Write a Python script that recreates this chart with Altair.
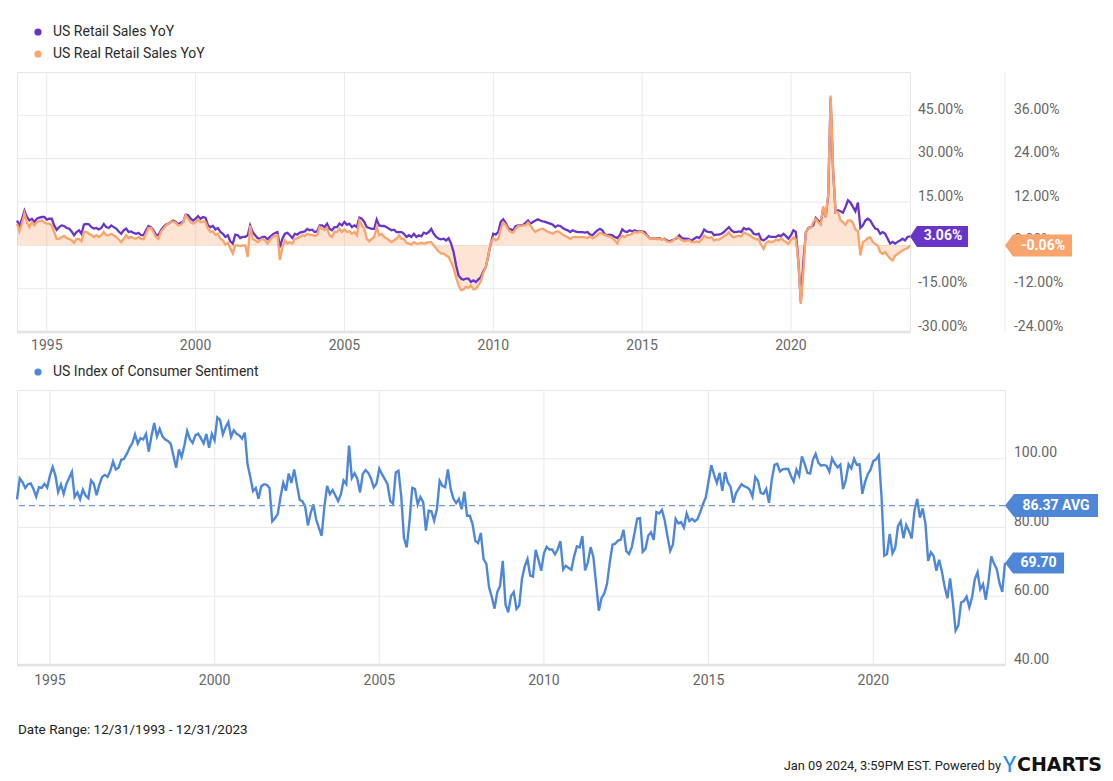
import altair as alt
import pandas as pd

# ---------------- data ----------------
N_MONTHS = 361  # Dec 1993 .. Dec 2023, month-end
MONTH_ENDS = pd.date_range("1993-12-01", periods=N_MONTHS, freq="MS") + pd.offsets.MonthEnd(0)
DATES = MONTH_ENDS.strftime("%Y-%m-%d").tolist()
# position of each month-end on a decimal-year time axis (Dec 31 1993 -> 1994.0)
T = [d.year + d.month / 12 for d in MONTH_ENDS]

RETAIL_YOY = [
    8.6,
    6.7, 9.2, 12.0, 9.8, 8.6, 9.2, 8.1, 9.2, 9.6, 9.8, 9.8, 8.9,          # 1994
    9.2, 9.2, 6.9, 5.4, 6.3, 6.9, 6.7, 6.0, 5.8, 4.8, 3.5, 4.6,           # 1995
    5.2, 4.0, 7.2, 7.4, 7.3, 6.3, 5.8, 6.0, 5.5, 6.0, 7.4, 6.3,           # 1996
    6.0, 6.9, 6.3, 5.8, 4.8, 4.0, 5.2, 5.8, 4.6, 4.8, 4.3, 4.0,           # 1997
    4.3, 3.5, 3.5, 5.2, 6.7, 6.3, 5.2, 3.7, 3.5, 5.2, 6.3, 7.1,           # 1998
    7.5, 8.1, 8.6, 8.1, 7.3, 7.8, 8.1, 10.6, 10.4, 9.2, 8.6, 9.2,         # 1999
    10.1, 9.2, 9.8, 9.5, 6.9, 6.3, 6.7, 5.5, 6.0, 4.6, 4.0, 2.9,          # 2000
    3.5, 1.4, 0.6, 3.7, 3.5, 2.5, 2.9, 2.9, 3.5, 6.9, 4.6, 3.5,           # 2001
    2.5, 2.3, 2.9, 2.9, 2.1, 2.9, 3.7, 4.3, 4.6, -0.6, 2.3, 4.0,          # 2002
    4.3, 3.5, 2.5, 4.0, 3.7, 4.4, 4.6, 4.8, 5.7, 5.2, 5.4, 4.6,           # 2003
    4.8, 6.9, 6.9, 6.3, 7.5, 5.7, 5.2, 6.3, 6.3, 7.5, 6.9, 8.1,           # 2004
    7.1, 7.5, 6.3, 6.9, 6.3, 9.6, 9.2, 8.1, 6.3, 6.0, 5.7, 5.7,           # 2005
    8.9, 6.9, 6.7, 6.7, 6.3, 5.7, 5.2, 5.4, 4.6, 4.6, 4.6, 4.0,           # 2006
    2.9, 3.5, 2.9, 4.0, 2.9, 3.5, 3.1, 4.4, 4.0, 4.6, 5.7, 4.0,           # 2007
    2.9, 2.3, 2.1, 2.3, 1.7, 2.5, 0.6, -2.3, -6.9, -10.4, -11.5, -11.9,   # 2008
    -11.5, -11.5, -12.7, -12.1, -12.7, -11.8, -11.0, -9.0, -7.5, -3.5, 0.6, 4.0,  # 2009
    3.7, 4.6, 8.1, 9.0, 7.8, 6.0, 5.5, 5.2, 6.6, 6.9, 6.9, 7.1,           # 2010
    7.8, 8.6, 7.5, 8.1, 8.6, 9.0, 8.6, 8.3, 8.1, 7.8, 7.5, 7.1,           # 2011
    6.3, 6.9, 6.7, 6.0, 5.5, 5.2, 4.6, 5.2, 4.8, 4.6, 4.6, 4.6,           # 2012
    4.4, 4.6, 3.7, 3.5, 4.4, 5.2, 5.7, 5.2, 3.7, 3.5, 3.7, 3.5,           # 2013
    2.9, 2.5, 3.5, 5.5, 4.8, 4.6, 5.2, 4.8, 5.2, 4.8, 4.8, 4.8,           # 2014
    4.6, 3.5, 2.5, 2.3, 2.5, 2.3, 2.5, 2.1, 2.3, 1.7, 1.4, 1.7,           # 2015
    2.1, 2.5, 3.5, 2.5, 2.3, 2.3, 2.1, 1.7, 2.3, 2.9, 2.5, 3.7,           # 2016
    5.5, 4.8, 4.6, 4.6, 3.5, 3.7, 3.7, 4.0, 4.6, 5.5, 6.3, 5.2,           # 2017
    4.6, 4.6, 4.8, 4.6, 6.0, 5.5, 5.8, 5.2, 4.0, 3.7, 4.0, 2.1,           # 2018
    1.7, 2.3, 3.2, 2.9, 2.9, 2.9, 3.5, 3.2, 4.0, 3.2, 2.3, 3.5,           # 2019
    5.2, 4.6, -5.8, -19.6, -6.0, 4.5, 6.0, 6.3, 6.9, 9.5, 8.6, 7.8,       # 2020
    12.7, 9.8, 17.0, 51.0, 26.0, 11.5, 12.1, 11.8, 11.3, 13.3, 15.6, 14.8,  # 2021
    13.3, 11.8, 14.8, 6.0, 6.9, 8.6, 9.2, 8.6, 7.1, 5.8, 5.5, 4.0,        # 2022
    4.6, 4.0, 2.3, 0.6, 1.2, 0.6, 1.2, 1.7, 2.3, 1.7, 2.9, 3.06,          # 2023
]

REAL_RETAIL_YOY = [
    6.0,
    3.9, 6.0, 8.8, 6.4, 5.1, 6.4, 5.5, 6.4, 6.7, 6.9, 6.4, 6.0,           # 1994
    6.0, 5.5, 3.7, 1.8, 1.8, 2.3, 2.6, 2.0, 1.8, 1.4, 0.7, 1.8,           # 1995
    1.8, 1.1, 3.7, 3.7, 3.2, 2.9, 2.3, 2.8, 2.3, 2.8, 3.7, 2.8,           # 1996
    2.8, 3.2, 2.8, 2.3, 1.7, 0.9, 1.8, 2.8, 2.0, 2.3, 2.0, 1.8,           # 1997
    2.3, 1.8, 1.7, 3.2, 4.8, 4.8, 3.7, 2.3, 1.8, 3.7, 4.6, 5.5,           # 1998
    6.0, 6.4, 6.6, 6.3, 5.5, 5.7, 6.4, 8.3, 7.4, 6.4, 6.0, 6.4,           # 1999
    7.2, 6.4, 6.6, 6.4, 4.6, 3.7, 3.9, 2.9, 3.2, 1.8, 1.4, 0.2,           # 2000
    0.7, -0.9, -2.3, 0.0, 0.0, -0.2, 0.0, 0.0, -3.2, 5.5, 1.8, 1.4,       # 2001
    0.9, 1.4, 1.8, 1.4, 0.5, 1.4, 2.3, 2.6, 2.8, -4.1, -0.5, 1.4,         # 2002
    0.5, 0.9, 0.5, 1.8, 2.0, 2.3, 2.8, 2.6, 3.2, 2.9, 2.9, 2.6,           # 2003
    2.8, 5.1, 4.6, 4.2, 4.8, 2.8, 2.3, 3.7, 3.7, 4.6, 3.7, 4.4,           # 2004
    3.7, 3.9, 3.2, 3.7, 2.8, 6.9, 5.5, 4.6, 1.8, 1.1, 1.8, 2.3,           # 2005
    5.1, 2.8, 3.2, 2.3, 2.0, 1.4, 0.9, 1.4, 1.8, 2.8, 1.8, 1.8,           # 2006
    0.7, 0.5, 0.2, 0.9, 0.5, 0.5, 0.7, 0.5, 0.7, 0.9, 0.9, 0.0,           # 2007
    -0.9, -1.7, -2.3, -2.3, -2.8, -3.2, -4.6, -6.4, -8.8, -11.1, -12.4, -12.2,  # 2008
    -11.5, -11.8, -11.1, -12.2, -12.0, -11.1, -9.9, -7.6, -6.0, -2.8, 0.7, 2.0,  # 2009
    1.4, 1.8, 4.4, 6.3, 5.7, 4.4, 3.7, 3.5, 4.6, 5.3, 5.4, 5.5,           # 2010
    5.5, 6.3, 5.5, 4.4, 3.7, 4.2, 4.4, 4.6, 4.2, 3.7, 3.5, 3.2,           # 2011
    3.7, 3.9, 3.5, 2.9, 2.6, 2.3, 1.8, 2.3, 2.3, 2.3, 2.3, 2.3,           # 2012
    2.2, 2.0, 2.5, 2.0, 2.3, 2.9, 3.5, 3.2, 2.8, 2.6, 2.4, 2.0,           # 2013
    1.4, 0.5, 2.0, 2.6, 2.3, 2.8, 2.9, 3.2, 3.7, 3.5, 3.7, 3.7,           # 2014
    3.2, 2.6, 2.0, 1.8, 2.0, 1.7, 1.8, 1.7, 1.7, 1.1, 0.9, 1.1,           # 2015
    1.7, 2.3, 2.0, 1.4, 1.1, 1.3, 1.4, 0.9, 0.9, 1.1, 0.9, 1.6,           # 2016
    2.7, 2.2, 2.0, 2.2, 1.3, 1.6, 1.6, 2.0, 2.5, 2.9, 3.6, 2.7,           # 2017
    2.2, 2.5, 2.7, 2.5, 3.6, 3.2, 2.9, 2.5, 2.0, 1.6, 1.8, 0.1,           # 2018
    -1.0, 0.7, 1.1, 0.9, 1.1, 1.6, 1.3, 2.0, 1.3, 0.9, 0.4, 1.5,          # 2019
    2.2, 1.6, -4.7, -16.2, -7.4, 3.6, 4.7, 4.8, 6.4, 7.3, 6.4, 5.7,       # 2020
    10.8, 7.8, 14.0, 41.5, 21.0, 9.2, 9.2, 6.9, 6.4, 5.7, 6.9, 6.9,       # 2021
    6.2, 4.4, 3.9, -2.8, 0.9, 1.3, 2.0, 2.2, 0.9, 0.4, -0.1, -1.9,        # 2022
    -2.4, -1.9, -2.8, -3.7, -4.2, -2.8, -2.4, -1.9, -1.4, -1.0, -0.8, -0.06,  # 2023
]

SENTIMENT = [
    88.2,
    94.3, 93.2, 91.5, 92.6, 92.8, 91.2, 89.0, 91.7, 91.5, 92.7, 91.6, 95.1,
    97.6, 95.1, 90.3, 92.5, 89.8, 92.7, 94.4, 96.2, 88.9, 90.2, 88.2, 91.0,
    89.3, 88.5, 93.7, 92.7, 89.4, 92.4, 94.7, 95.3, 94.7, 96.5, 99.2, 96.9,
    97.4, 99.7, 100.0, 101.4, 103.2, 104.5, 107.1, 104.4, 106.0, 105.6, 107.2, 102.1,
    106.6, 110.4, 106.5, 108.7, 106.5, 105.6, 105.2, 104.4, 100.9, 97.4, 102.7, 100.5,
    103.9, 108.1, 105.7, 104.6, 106.8, 107.3, 106.0, 104.5, 107.2, 103.2, 107.2, 105.4,
    112.0, 111.3, 107.1, 109.2, 110.7, 106.4, 108.3, 107.3, 106.8, 105.8, 107.6, 98.4,
    94.7, 90.6, 91.5, 88.4, 92.0, 92.6, 92.4, 91.5, 81.8, 82.7, 83.9, 88.8,
    93.0, 90.7, 95.7, 93.0, 96.9, 92.4, 88.1, 87.6, 86.1, 80.6, 84.2, 86.7,
    82.4, 79.9, 77.6, 86.0, 92.1, 89.7, 90.9, 89.3, 87.7, 89.6, 93.7, 92.6,
    103.8, 94.4, 95.8, 94.2, 90.2, 95.6, 96.7, 95.9, 94.2, 91.7, 92.8, 97.1,
    95.5, 94.1, 92.6, 87.7, 86.9, 96.0, 96.5, 89.1, 76.9, 74.2, 81.6, 91.5,
    91.2, 86.7, 88.9, 87.4, 79.1, 84.9, 84.7, 82.0, 85.4, 93.6, 92.1, 91.7,
    96.9, 91.3, 88.4, 87.1, 88.3, 85.3, 90.4, 83.4, 83.4, 80.9, 76.1, 75.5,
    78.4, 70.8, 69.5, 62.6, 59.8, 56.4, 61.2, 63.0, 70.3, 57.6, 55.3, 60.1,
    61.2, 56.3, 57.3, 65.1, 68.7, 70.8, 66.0, 65.7, 73.5, 70.6, 67.4, 72.5,
    74.4, 73.6, 73.6, 72.2, 73.6, 76.0, 67.8, 68.9, 68.2, 67.7, 71.6, 74.5,
    74.2, 77.5, 67.5, 69.8, 74.3, 71.5, 63.7, 55.8, 59.5, 60.8, 63.7, 69.9,
    75.0, 75.3, 76.2, 76.4, 79.3, 73.2, 72.3, 74.3, 78.3, 82.6, 82.7, 72.9,
    73.8, 77.6, 78.6, 76.4, 84.5, 84.1, 85.1, 82.1, 77.5, 73.2, 75.1, 82.5,
    81.2, 81.6, 80.0, 84.1, 81.9, 82.5, 81.8, 82.5, 84.6, 86.9, 88.8, 93.6,
    98.1, 95.4, 93.0, 95.9, 90.7, 96.1, 93.1, 91.9, 87.2, 90.0, 91.3, 92.6,
    92.0, 91.7, 91.0, 89.0, 94.7, 93.5, 90.0, 89.8, 91.2, 87.2, 93.8, 98.2,
    98.5, 96.3, 96.9, 97.0, 97.1, 95.0, 93.4, 96.8, 95.1, 100.7, 98.5, 95.9,
    95.7, 99.7, 101.4, 98.8, 98.0, 98.2, 97.9, 96.2, 100.1, 98.6, 97.5, 98.3,
    91.2, 93.8, 98.4, 97.2, 100.0, 98.2, 98.4, 89.8, 93.2, 95.5, 96.8, 99.3,
    99.8, 101.0, 89.1, 71.8, 72.3, 78.1, 72.5, 74.1, 80.4, 81.8, 76.9, 80.7,
    79.0, 76.8, 84.9, 88.3, 82.9, 85.5, 81.2, 70.3, 72.8, 71.7, 67.4, 70.6,
    67.2, 62.8, 59.4, 65.2, 58.4, 50.0, 51.5, 58.2, 58.6, 59.9, 56.8, 59.7,
    64.9, 67.0, 62.0, 63.5, 59.0, 64.4, 71.6, 69.5, 67.9, 63.8, 61.3, 69.7,
]

assert len(RETAIL_YOY) == N_MONTHS and len(REAL_RETAIL_YOY) == N_MONTHS and len(SENTIMENT) == N_MONTHS

SERIES_TOP = ["US Retail Sales YoY", "US Real Retail Sales YoY"]
SERIES_BOTTOM = ["US Index of Consumer Sentiment"]
AVG_SENTIMENT = 86.37
# the 0.00% tick of the left scale sits under the 3.06% flag, so it is not labelled
TOP_LEFT_TICKS = [-30, -15, 0, 15, 30, 45]
TOP_LEFT_LABELLED = [-30, -15, 15, 30, 45]
TOP_RIGHT_TICKS = [-24, -12, 0, 12, 24, 36]
BOTTOM_TICKS = [40, 60, 80, 100]
YEAR_TICKS = [1995, 2000, 2005, 2010, 2015, 2020]
FOOTER_LEFT = ["Date Range: 12/31/1993 - 12/31/2023"]
FOOTER_RIGHT = ["Jan 09 2024, 3:59PM EST. Powered by"]
BRAND = ["Y", "CHARTS"]

# ---------------- style ----------------
PURPLE = "#6935C9"
ORANGE = "#F9A46C"
BLUE = "#4F87D8"
AVG_BLUE = "#6C9BE0"
GRID = "#e9e9e9"
AXIS_LINE = "#e2e2e2"
LABEL = "#666666"
FONT = "Roboto"
LBL_SIZE = 14

TOP_W, TOP_H = 893, 260
BOT_W, BOT_H = 988, 275
XDOM = [T[0], T[-1]]


def xenc(field="t"):
    return alt.X(f"{field}:Q", scale=alt.Scale(domain=XDOM, nice=False, zero=False), axis=None, title=None)


def yenc(field, dom):
    return alt.Y(f"{field}:Q", scale=alt.Scale(domain=dom, nice=False, zero=False), axis=None, title=None)


P_DOM = [-30, 60]
O_DOM = [-24, 48]
B_DOM = [40, 120]

years_df = pd.DataFrame({"year": YEAR_TICKS, "label": [str(y) for y in YEAR_TICKS]})


def x_grid_and_labels(height, label_dy):
    grid = alt.Chart(years_df).mark_rule(color=GRID, strokeWidth=1).encode(x=xenc("year"))
    base = alt.Chart(pd.DataFrame({"a": [0]})).mark_rule(color=AXIS_LINE, strokeWidth=2.5).encode(
        x=alt.value(0), x2=alt.value("width"), y=alt.value(height))
    labels = alt.Chart(years_df).mark_text(
        fontSize=LBL_SIZE, font=FONT, color=LABEL, align="center", baseline="middle"
    ).encode(x=xenc("year"), y=alt.value(height + label_dy), text="label:N")
    return grid, base, labels


def y_grid(ticks, dom):
    d = pd.DataFrame({"v": ticks})
    return alt.Chart(d).mark_rule(color=GRID, strokeWidth=1).encode(y=yenc("v", dom))


def y_labels(ticks, dom, fmt, xpx):
    d = pd.DataFrame({"v": ticks, "label": [fmt.format(v) for v in ticks]})
    return alt.Chart(d).mark_text(
        fontSize=LBL_SIZE, font=FONT, color=LABEL, align="left", baseline="alphabetic", dy=-1.5
    ).encode(x=alt.value(xpx), y=yenc("v", dom), text="label:N")


# ---------------- top panel ----------------
top_df = pd.DataFrame({"date": DATES, "t": T, "retail": RETAIL_YOY, "real": REAL_RETAIL_YOY})
last_top = pd.DataFrame({
    "t": [T[-1]], "retail": [RETAIL_YOY[-1]], "real": [REAL_RETAIL_YOY[-1]],
    "plabel": [f"{RETAIL_YOY[-1]:.2f}%"], "olabel": [f"{REAL_RETAIL_YOY[-1]:.2f}%"],
})

PATH_P = "M-1,0L-0.76,-0.362L1,-0.362L1,0.362L-0.76,0.362Z"
PATH_O = "M-1,0L-0.761,-0.328L1,-0.328L1,0.328L-0.761,0.328Z"

t_xgrid, t_base, t_xlabels = x_grid_and_labels(TOP_H, 14)
t_ygrid = y_grid(TOP_LEFT_TICKS, P_DOM)
orange_axis_line = alt.Chart(pd.DataFrame({"a": [0]})).mark_rule(color=GRID, strokeWidth=1).encode(
    x=alt.value(TOP_W + 95), y=alt.value(0), y2=alt.value(TOP_H))

area = alt.Chart(top_df).mark_area(color=ORANGE, opacity=0.3).encode(
    x=xenc(), y=yenc("real", O_DOM), y2=alt.datum(0))
purple_line = alt.Chart(top_df).mark_line(color=PURPLE, strokeWidth=2.3).encode(
    x=xenc(), y=yenc("retail", P_DOM))
orange_line = alt.Chart(top_df).mark_line(color=ORANGE, strokeWidth=2.3).encode(
    x=xenc(), y=yenc("real", O_DOM))

p_labels = y_labels(TOP_LEFT_LABELLED, P_DOM, "{:.2f}%", TOP_W + 8)
o_labels = y_labels(TOP_RIGHT_TICKS, O_DOM, "{:.2f}%", TOP_W + 95 + 9)

purple_box = alt.Chart(last_top).mark_point(
    shape=PATH_P, size=58 * 58, filled=True, opacity=1, color=PURPLE, xOffset=29
).encode(x=xenc(), y=yenc("retail", P_DOM))
purple_txt = alt.Chart(last_top).mark_text(
    color="white", fontWeight="bold", fontSize=14, font=FONT, dx=33, align="center", baseline="middle"
).encode(x=xenc(), y=yenc("retail", P_DOM), text="plabel:N")
orange_box = alt.Chart(last_top).mark_point(
    shape=PATH_O, size=67 * 67, filled=True, opacity=1, color=ORANGE, xOffset=95 + 33.5
).encode(x=xenc(), y=yenc("real", O_DOM))
orange_txt = alt.Chart(last_top).mark_text(
    color="white", fontWeight="bold", fontSize=14, font=FONT, dx=95 + 38, align="center", baseline="middle"
).encode(x=xenc(), y=yenc("real", O_DOM), text="olabel:N")

top_legend = []
for i, (name, col) in enumerate(zip(SERIES_TOP, [PURPLE, ORANGE])):
    d = pd.DataFrame({"name": [name]})
    ypx = -40 + 22 * i
    top_legend.append(alt.Chart(d).mark_point(shape="circle", filled=True, size=52, opacity=1, color=col)
                      .encode(x=alt.value(21), y=alt.value(ypx)))
    top_legend.append(alt.Chart(d).mark_text(align="left", baseline="middle", fontSize=14, font=FONT, color="#2b2b2b")
                      .encode(x=alt.value(36), y=alt.value(ypx), text="name:N"))
# white anchor fixing the top-left corner of the page layout
anchor = alt.Chart(pd.DataFrame({"a": [0]})).mark_rule(color="white", strokeWidth=1).encode(
    x=alt.value(-7.5), x2=alt.value(-7), y=alt.value(-62.5))

top = alt.layer(
    t_xgrid, t_ygrid, orange_axis_line, t_base, area, purple_line, orange_line,
    t_xlabels, p_labels, o_labels, purple_box, purple_txt, orange_box, orange_txt,
    *top_legend, anchor,
).resolve_scale(y="independent").properties(width=TOP_W, height=TOP_H)

# ---------------- bottom panel ----------------
bot_df = pd.DataFrame({"date": DATES, "t": T, "sent": SENTIMENT})
avg_df = pd.DataFrame({"t": [T[-1]], "avg": [AVG_SENTIMENT], "label": [f"{AVG_SENTIMENT:.2f} AVG"]})
last_bot = pd.DataFrame({"t": [T[-1]], "sent": [SENTIMENT[-1]], "label": [f"{SENTIMENT[-1]:.2f}"]})

PATH_AVG = "M-1,0L-0.806,-0.247L1,-0.247L1,0.247L-0.806,0.247Z"
PATH_LAST = "M-1,0L-0.729,-0.356L1,-0.356L1,0.356L-0.729,0.356Z"

b_xgrid, b_base, b_xlabels = x_grid_and_labels(BOT_H, 16)
b_ygrid = y_grid(BOTTOM_TICKS, B_DOM)
b_labels = y_labels(BOTTOM_TICKS, B_DOM, "{:.2f}", BOT_W + 9)

blue_line = alt.Chart(bot_df).mark_line(color=BLUE, strokeWidth=2.4).encode(x=xenc(), y=yenc("sent", B_DOM))
avg_rule = alt.Chart(avg_df).mark_rule(color=AVG_BLUE, strokeDash=[6, 4], strokeWidth=1.3).encode(
    y=yenc("avg", B_DOM))
avg_box = alt.Chart(avg_df).mark_point(
    shape=PATH_AVG, size=93 * 93, filled=True, opacity=1, color=BLUE, xOffset=46.5
).encode(x=xenc(), y=yenc("avg", B_DOM))
avg_txt = alt.Chart(avg_df).mark_text(
    color="white", fontWeight="bold", fontSize=14, font=FONT, dx=51, align="center", baseline="middle"
).encode(x=xenc(), y=yenc("avg", B_DOM), text="label:N")
last_box = alt.Chart(last_bot).mark_point(
    shape=PATH_LAST, size=59 * 59, filled=True, opacity=1, color=BLUE, xOffset=29.5
).encode(x=xenc(), y=yenc("sent", B_DOM))
last_txt = alt.Chart(last_bot).mark_text(
    color="white", fontWeight="bold", fontSize=14, font=FONT, dx=33.5, align="center", baseline="middle"
).encode(x=xenc(), y=yenc("sent", B_DOM), text="label:N")

bot_extra = []
d = pd.DataFrame({"name": SERIES_BOTTOM})
bot_extra.append(alt.Chart(d).mark_point(shape="circle", filled=True, size=52, opacity=1, color=BLUE)
                 .encode(x=alt.value(21), y=alt.value(-18)))
bot_extra.append(alt.Chart(d).mark_text(align="left", baseline="middle", fontSize=14, font=FONT, color="#2b2b2b")
                 .encode(x=alt.value(36), y=alt.value(-18), text="name:N"))
bot_extra.append(alt.Chart(pd.DataFrame({"s": FOOTER_LEFT})).mark_text(
    align="left", baseline="middle", fontSize=13.5, font=FONT, color="#222222")
    .encode(x=alt.value(1), y=alt.value(340), text="s:N"))
bot_extra.append(alt.Chart(pd.DataFrame({"s": FOOTER_RIGHT})).mark_text(
    align="right", baseline="middle", fontSize=12.8, font=FONT, color="#222222")
    .encode(x=alt.value(984), y=alt.value(376), text="s:N"))
bot_extra.append(alt.Chart(pd.DataFrame({"s": BRAND[:1]})).mark_text(
    align="left", baseline="middle", fontSize=22, font=FONT, color="#1E88E5")
    .encode(x=alt.value(986), y=alt.value(375), text="s:N"))
bot_extra.append(alt.Chart(pd.DataFrame({"s": BRAND[1:]})).mark_text(
    align="left", baseline="middle", fontSize=19, font="DejaVu Sans", fontWeight="bold", color="#111111")
    .encode(x=alt.value(1000), y=alt.value(375), text="s:N"))

bottom = alt.layer(
    b_xgrid, b_ygrid, b_base, blue_line, avg_rule, b_xlabels, b_labels,
    avg_box, avg_txt, last_box, last_txt, *bot_extra,
).properties(width=BOT_W, height=BOT_H)

chart = alt.vconcat(top, bottom, spacing=58, bounds="flush").properties(
    padding=0
).configure(background="white").configure_view(stroke="#e6e6e6", strokeWidth=1)

chart.save("out.html", embed_options={"renderer": "svg", "actions": False})
